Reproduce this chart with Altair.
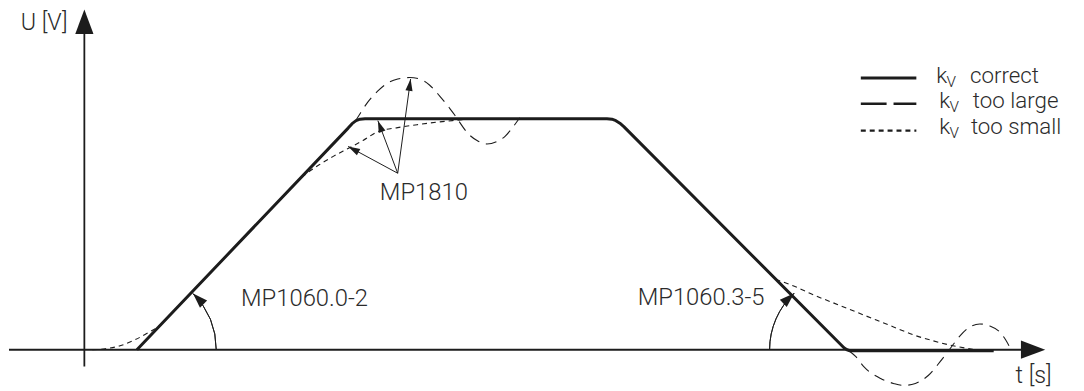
import altair as alt
import pandas as pd
import numpy as np

# Diagram units: t = horizontal distance from the U axis, U = height above the t axis
# (both in the drawing's own units)

# k_V correct (thick solid trapezoid)
correct_t = [53, 266, 270, 274, 278, 283, 527, 532, 536, 540, 544, 766, 769, 772, 776, 917]
correct_U = [0, 223.5, 228, 231, 232.5, 233, 233, 232.5, 231, 228.5, 225, 2, 0, -1, -1, -1]

# k_V too large (overshoot, long dashes) - two pieces
large1_t = [273, 278, 286, 296, 306, 316, 328, 338, 348, 359, 368, 374, 378, 386, 396, 406, 416, 424, 431, 439]
large1_U = [230, 238, 250, 261, 269, 273, 274.5, 273, 267, 255, 244, 236, 230, 219, 211, 207.5, 210, 215, 223, 234]
large2_t = [771, 778, 786, 803, 816, 826, 838, 851, 863, 873, 883, 893, 903, 913, 923, 929, 934]
large2_U = [-1, -7, -17, -29, -34, -36, -34, -26, -12, 1, 14, 23, 26, 24, 18, 10, 1]

# k_V too small (lag, short dashes) - three pieces
small1_t = [8, 21, 36, 51, 64, 74, 83]
small1_U = [0, 1, 4, 10, 17, 23, 31]
small2_t = [219, 236, 251, 266, 281, 296, 316, 336, 356, 371, 391, 416]
small2_U = [174, 186, 195, 203, 211, 220, 224, 227, 229.5, 231, 232.5, 233]
small3_t = [697, 716, 736, 756, 776, 796, 816, 836, 856, 876, 896]
small3_U = [71, 64, 55, 47, 39, 31, 23, 15, 9, 4, 0.5]

# MP1810 pointer arrows: common start, three tips
mp1810_from = (316, 178)
mp1810_tips_t = [266, 296, 329]
mp1810_tips_U = [205, 231, 273]

# angle arcs (centre t, centre U, radius, start/end theta in radians, arrow tip, arrow angle)
arc_left = dict(t=53, U=0, r=80, th1=0.785, th2=1.571, tip_t=109.6, tip_U=56.6, ang=315)
arc_right = dict(t=769, U=0, r=78, th1=4.712, th2=5.533, tip_t=715.8, tip_U=57, ang=47)

labels = ["MP1060.0-2", "MP1060.3-5", "MP1810"]
labels_t = [158, 558, 298]
labels_U = [44, 45, 151]

legend_names = ["correct", "too large", "too small"]
legend_U = [274, 248, 221]
legend_text_U = [269, 244, 218]

W, H = 1076, 383
xs = alt.Scale(domain=[-76, 1000], nice=False, zero=False)
ys = alt.Scale(domain=[-40, 343], nice=False, zero=False)
INK = "#1c1c1c"
TXT = "#2b2b2b"
FONT = "Roboto"


def X(f="t"):
    return alt.X(f + ":Q", scale=xs, axis=None)


def Y(f="U"):
    return alt.Y(f + ":Q", scale=ys, axis=None)


def segs(*pieces):
    rows = []
    for k, (tt, uu) in enumerate(pieces):
        for i, (a, b) in enumerate(zip(tt, uu)):
            rows.append({"t": a, "U": b, "seg": k, "i": i})
    return pd.DataFrame(rows)


def line_layer(df, width, dash=None, interp="linear", color=INK):
    kw = dict(strokeWidth=width, color=color, interpolate=interp,
              strokeCap="butt", strokeJoin="round")
    if dash:
        kw["strokeDash"] = dash
    return alt.Chart(df).mark_line(**kw).encode(
        x=X(), y=Y(), detail="seg:N", order="i:Q")


def text_layer(df, size, align="left"):
    return alt.Chart(df).mark_text(
        align=align, baseline="alphabetic", font=FONT, fontSize=size,
        fontWeight=300, color=TXT
    ).encode(x=X(), y=Y(), text="label:N")


layers = []

# axes
axes_df = pd.DataFrame({"t": [-76, 0], "U": [0, -17], "t2": [950, 0], "U2": [0, 320]})
layers.append(alt.Chart(axes_df).mark_rule(color=INK, strokeWidth=1.8).encode(
    x=X(), y=Y(), x2="t2:Q", y2="U2:Q"))
axis_heads = pd.DataFrame({"t": [0, 969], "U": [343, 0], "ang": [0, 90]})
layers.append(alt.Chart(axis_heads).mark_point(
    shape="M0,0L-0.75,2L0.75,2Z", filled=True, size=600, opacity=1, color=INK, strokeWidth=0
).encode(x=X(), y=Y(), angle=alt.Angle("ang:Q", scale=None)))

# curves
layers.append(line_layer(segs((small1_t, small1_U), (small2_t, small2_U), (small3_t, small3_U)),
                         1.1, dash=[5, 4], interp="monotone"))
layers.append(line_layer(segs((large1_t, large1_U), (large2_t, large2_U)),
                         1.1, dash=[11, 7], interp="monotone"))
layers.append(line_layer(segs((correct_t, correct_U)), 3.0))

# MP1810 arrows
arr_rows = []
heads = []
for k, (a, b) in enumerate(zip(mp1810_tips_t, mp1810_tips_U)):
    arr_rows.append({"t": mp1810_from[0], "U": mp1810_from[1], "t2": a, "U2": b})
    ang = float(np.degrees(np.arctan2(a - mp1810_from[0], b - mp1810_from[1]))) % 360
    heads.append({"t": a, "U": b, "ang": ang})
layers.append(alt.Chart(pd.DataFrame(arr_rows)).mark_rule(color=INK, strokeWidth=1).encode(
    x=X(), y=Y(), x2="t2:Q", y2="U2:Q"))
layers.append(alt.Chart(pd.DataFrame(heads)).mark_point(
    shape="M0,0L-0.6,2L0.6,2Z", filled=True, size=144, opacity=1, color=INK, strokeWidth=0
).encode(x=X(), y=Y(), angle=alt.Angle("ang:Q", scale=None)))

# angle arcs with arrowheads
for a in (arc_left, arc_right):
    layers.append(alt.Chart(pd.DataFrame({"t": [a["t"]], "U": [a["U"]]})).mark_arc(
        radius=a["r"], radius2=a["r"], theta=a["th1"], theta2=a["th2"],
        filled=False, stroke=INK, strokeWidth=1
    ).encode(x=X(), y=Y()))
arc_heads = pd.DataFrame({"t": [arc_left["tip_t"], arc_right["tip_t"]],
                          "U": [arc_left["tip_U"], arc_right["tip_U"]],
                          "ang": [arc_left["ang"], arc_right["ang"]]})
layers.append(alt.Chart(arc_heads).mark_point(
    shape="M0,0L-0.68,2L0.68,2Z", filled=True, size=225, opacity=1, color=INK, strokeWidth=0
).encode(x=X(), y=Y(), angle=alt.Angle("ang:Q", scale=None)))

# labels
layers.append(text_layer(pd.DataFrame({"t": labels_t, "U": labels_U, "label": labels}), 24))
layers.append(text_layer(pd.DataFrame({"t": [-17], "U": [322], "label": ["U [V]"]}), 23.5, "right"))
layers.append(text_layer(pd.DataFrame({"t": [939], "U": [-34], "label": ["t [s]"]}), 23.5))

# legend
leg_lines = pd.DataFrame({"t": [783] * 3, "t2": [839] * 3, "U": legend_U, "name": legend_names})
styles = [(3.0, None), (2.4, [26, 7]), (2.4, [5, 4])]
for k, (w, d) in enumerate(styles):
    kw = dict(color=INK, strokeWidth=w, strokeCap="butt")
    if d:
        kw["strokeDash"] = d
    layers.append(alt.Chart(leg_lines.iloc[[k]]).mark_rule(**kw).encode(
        x=X(), y=Y(), x2="t2:Q"))
layers.append(text_layer(pd.DataFrame({"t": [859, 862, 862], "U": legend_text_U,
                                       "label": ["k"] * 3}), 22.5))
layers.append(text_layer(pd.DataFrame({"t": [869.5, 872.5, 872.5],
                                       "U": [u - 4 for u in legend_text_U],
                                       "label": ["V"] * 3}), 15.5))
layers.append(text_layer(pd.DataFrame({"t": [893, 896, 894], "U": legend_text_U,
                                       "label": legend_names}), 22.5))

chart = alt.layer(*layers).properties(
    width=W, height=H, padding=0, background="white"
).configure_view(stroke=None)

chart.save("out.html", embed_options={"renderer": "svg", "actions": False})
